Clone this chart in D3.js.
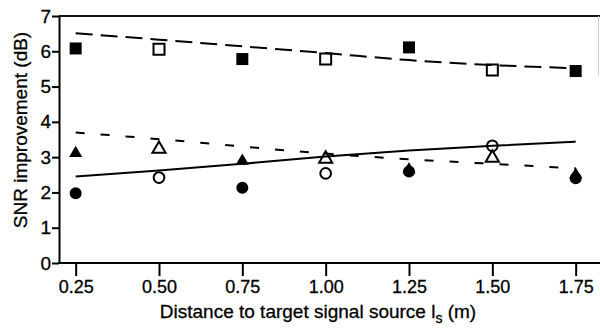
<!DOCTYPE html>
<html>
<head>
<meta charset="utf-8">
<script src="https://cdn.jsdelivr.net/npm/d3@7"></script>
<style>
	body { margin: 0; background: #fff; }
	svg { display: block; font-family: "Liberation Sans", Arial, sans-serif; }
	/* scanned Helvetica looks a bit heavier than Liberation Sans */
	svg text { stroke: #000; stroke-width: 0.3px; }
</style>
</head>
<body>
<svg id="chart" width="600" height="329"></svg>
<script>
"use strict";

// distances (m) for the x axis ticks and the fitted curves
var distances = [0.25, 0.50, 0.75, 1.00, 1.25, 1.50, 1.75];
var xTickLabels = ["0.25", "0.50", "0.75", "1.00", "1.25", "1.50", "1.75"];
var yTicks = [0, 1, 2, 3, 4, 5, 6, 7];

// measured points, filled markers sit at the odd distances, open at the even ones
var filledX = [0.25, 0.75, 1.25, 1.75];
var openX = [0.50, 1.00, 1.50];

var squareFilled = [6.08, 5.78, 6.11, 5.44];
var squareOpen = [6.06, 5.78, 5.47];
var triangleFilled = [3.11, 2.89, 2.65, 2.50];
var triangleOpen = [3.23, 2.95, 2.98];
var circleFilled = [1.98, 2.13, 2.59, 2.40];
var circleOpen = [2.42, 2.54, 3.32];

// fitted curves evaluated at each distance
var squareFit = [6.51, 6.33, 6.14, 5.95, 5.75, 5.61, 5.52];
var triangleFit = [3.70, 3.51, 3.30, 3.10, 2.94, 2.81, 2.68];
var circleFit = [2.45, 2.62, 2.81, 3.02, 3.19, 3.32, 3.44];

(function() {
	var svg = d3.select("#chart");

	var left = 59, right = 600, top = 16, bottom = 263;

	var x = d3.scaleLinear().domain([0.2, 1.823]).range([left, right]);
	var y = d3.scaleLinear().domain([0, 7]).range([bottom, top]);

	// frame: top edge dark, right edge faint like the scan
	svg.append("line")
		.attr("x1", left).attr("x2", right)
		.attr("y1", top).attr("y2", top)
		.attr("stroke", "#111").attr("stroke-width", 2);
	svg.append("line")
		.attr("x1", 598.5).attr("x2", 598.5)
		.attr("y1", top).attr("y2", 75)
		.attr("stroke", "#ccc").attr("stroke-width", 1);

	// x axis with long ticks below
	var xAxis = d3.axisBottom(x)
		.tickValues(distances)
		.tickFormat(function(d, i) { return xTickLabels[i]; })
		.tickSize(13)
		.tickSizeOuter(0)
		.tickPadding(4);
	var gx = svg.append("g")
		.attr("transform", "translate(0," + bottom + ")")
		.call(xAxis);
	gx.select(".domain").attr("stroke", "#000").attr("stroke-width", 2)
		.attr("d", "M" + (left - 1) + ",0H" + right);
	gx.selectAll(".tick line").attr("stroke", "#000").attr("stroke-width", 2);
	gx.selectAll(".tick text")
		.attr("fill", "#000")
		.style("font-size", "18px");

	// y axis with short ticks on the left
	var yAxis = d3.axisLeft(y)
		.tickValues(yTicks)
		.tickFormat(d3.format("d"))
		.tickSize(7)
		.tickSizeOuter(0)
		.tickPadding(1);
	var gy = svg.append("g")
		.attr("transform", "translate(" + left + ",0)")
		.call(yAxis);
	gy.select(".domain").attr("stroke", "#000").attr("stroke-width", 2);
	gy.selectAll(".tick line").attr("stroke", "#000").attr("stroke-width", 2);
	gy.selectAll(".tick text")
		.attr("fill", "#000")
		.style("font-size", "19px");

	// axis titles
	var xTitle = svg.append("text")
		.attr("x", 318)
		.attr("y", 318)
		.attr("text-anchor", "middle")
		.style("font-size", "19px")
		.attr("fill", "#000");
	xTitle.append("tspan").text("Distance to target signal source l");
	xTitle.append("tspan").attr("dy", 5).style("font-size", "14px").text("s");
	xTitle.append("tspan").attr("dy", -5).text(" (m)");

	svg.append("text")
		.attr("transform", "translate(27,130) rotate(-90)")
		.attr("text-anchor", "middle")
		.style("font-size", "19px")
		.attr("fill", "#000")
		.text("SNR improvement (dB)");

	// fitted curves
	var line = d3.line()
		.x(function(d, i) { return x(distances[i]); })
		.y(function(d) { return y(d); })
		.curve(d3.curveMonotoneX);

	var fits = [
		{values: squareFit, dash: "17,8"},
		{values: triangleFit, dash: "9,16"},
		{values: circleFit, dash: null}
	];
	svg.selectAll("path.fit")
		.data(fits)
		.join("path")
		.attr("class", "fit")
		.attr("d", function(d) { return line(d.values); })
		.attr("fill", "none")
		.attr("stroke", "#000")
		.attr("stroke-width", 2)
		.attr("stroke-dasharray", function(d) { return d.dash; });

	// markers
	var series = [
		{xs: filledX, ys: triangleFilled, shape: d3.symbolTriangle, size: 75, filled: true},
		{xs: openX, ys: triangleOpen, shape: d3.symbolTriangle, size: 75, filled: false},
		{xs: filledX, ys: circleFilled, shape: d3.symbolCircle, size: 113, filled: true},
		{xs: openX, ys: circleOpen, shape: d3.symbolCircle, size: 90, filled: false},
		{xs: filledX, ys: squareFilled, shape: d3.symbolSquare, size: 144, filled: true},
		{xs: openX, ys: squareOpen, shape: d3.symbolSquare, size: 121, filled: false}
	];

	series.forEach(function(s) {
		var sym = d3.symbol().type(s.shape).size(s.size);
		svg.append("g")
			.selectAll("path")
			.data(s.ys)
			.join("path")
			.attr("transform", function(d, i) {
				return "translate(" + x(s.xs[i]) + "," + y(d) + ")";
			})
			.attr("d", sym)
			.attr("fill", s.filled ? "#000" : "none")
			.attr("stroke", "#000")
			.attr("stroke-width", s.filled ? 0 : 2);
	});
}());
</script>
</body>
</html>
